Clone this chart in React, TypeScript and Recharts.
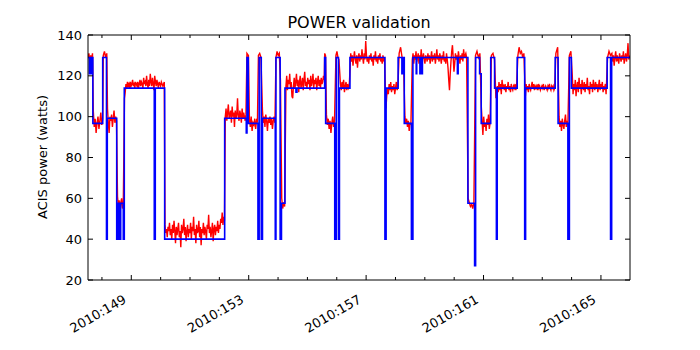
import { LineChart, Line, XAxis, YAxis } from 'recharts';

const xDomain: [number, number] = [147.525, 165.99];
const dayTicks = [148, 149, 150, 151, 152, 153, 154, 155, 156, 157, 158, 159, 160, 161, 162, 163, 164, 165];
const labeledDays = [149, 153, 157, 161, 165];
const wattTicks = [20, 40, 60, 80, 100, 120, 140];

// model power: day a level starts, then that level (drawn as steps)
const modelDays = [
  147.525, 147.569, 147.586, 147.61, 147.627, 147.65, 147.667, 147.69, 148.026, 148.155,
  148.182, 148.503, 148.547, 148.598, 148.639, 148.727, 148.761, 149.783, 149.817, 150.137,
  152.181, 152.917, 152.941, 152.985, 153.315, 153.356, 153.428, 153.469, 153.905, 153.928,
  154.071, 154.116, 154.235, 154.61, 154.644, 155.587, 155.621, 155.931, 155.982, 156.057,
  156.091, 156.449, 157.641, 157.681, 158.09, 158.219, 158.253, 158.3, 158.543, 158.594,
  158.707, 158.724, 158.833, 158.85, 158.901, 158.918, 160.11, 160.135, 160.468, 160.696,
  160.73, 160.866, 160.921, 161.245, 161.377, 161.438, 161.466, 162.147, 162.402, 162.433,
  163.441, 163.54, 163.874, 163.925, 163.993, 165.212, 165.328, 165.365, 165.99,
];
const modelWatts = [
  129, 121, 129, 121, 129, 121, 129, 96.7, 129, 40,
  99.2, 40, 57.6, 40, 57.6, 40, 114, 40, 114, 40,
  99.2, 92, 129, 96.7, 40, 129, 40, 99.2, 40, 129,
  40, 57.6, 114, 112, 114, 129, 96.7, 40, 129, 40,
  114, 129, 40, 114, 129, 121, 129, 96.7, 40, 129,
  121, 129, 121, 129, 121, 129, 121, 129, 57.6, 27,
  129, 121, 96.7, 129, 114, 40, 114, 129, 40, 114,
  129, 96.7, 40, 129, 114, 129, 40, 129, 129,
];

// telemetry, as runs of samples between two days
const telemRuns = [
  { from: 147.525, to: 147.678, watts: [129, 131, 127, 130, 128, 131] },
  { from: 147.705, to: 148.026, watts: [103, 95, 99, 92, 97, 100, 94, 98, 102, 96, 99] },
  { from: 148.046, to: 148.165, watts: [130, 132, 129, 131] },
  { from: 148.189, to: 148.496, watts: [104, 97, 92, 100, 98, 101, 95, 99, 103, 97, 100, 98] },
  { from: 148.53, to: 148.727, watts: [61, 56, 59, 53, 58, 60, 55, 57] },
  {
    from: 148.768, to: 150.124,
    watts: [
      109, 112, 116, 114, 117, 115, 116, 114, 117, 115, 116, 118, 115, 116, 114, 117, 116, 115, 117, 114,
      116, 118, 115, 117, 116, 114, 119, 116, 117, 115, 120, 116, 114, 118, 115, 121, 117, 115, 119, 116,
      113, 120, 117, 115, 118, 116, 114, 117, 116, 115, 117, 116, 115, 116, 117,
    ],
  },
  {
    from: 150.148, to: 152.174,
    watts: [
      47, 43, 45, 41, 46, 44, 48, 42, 45, 40, 47, 43, 49, 44, 38, 46, 42, 45, 48, 41,
      44, 36, 47, 43, 45, 50, 42, 46, 39, 44, 47, 41, 45, 43, 48, 40, 46, 44, 51, 42,
      45, 38, 47, 43, 44, 49, 41, 46, 37, 45, 43, 48, 42, 46, 44, 40, 47, 45, 52, 43,
      46, 41, 44, 48, 39, 45, 47, 42, 46, 44, 49, 43, 47, 45, 50, 48, 53, 47, 51, 49,
    ],
  },
  {
    from: 152.202, to: 152.906,
    watts: [100, 104, 98, 102, 106, 99, 101, 103, 97, 105, 100, 102, 95, 103, 99, 101, 109, 100, 98, 103, 101, 97, 104, 99, 102, 100, 98, 101],
  },
  { from: 152.94, to: 152.99, watts: [131, 130] },
  { from: 153.024, to: 153.297, watts: [99, 95, 100, 93, 97, 96, 99, 94, 98, 97] },
  { from: 153.331, to: 153.417, watts: [130, 131, 129] },
  { from: 153.468, to: 153.894, watts: [103, 97, 100, 95, 101, 98, 93, 99, 97, 100, 96, 99, 94, 98, 100, 97] },
  { from: 153.928, to: 154.081, watts: [129, 132, 130, 131, 118] },
  { from: 154.125, to: 154.224, watts: [60, 55, 58, 56] },
  {
    from: 154.269, to: 155.573,
    watts: [
      115, 120, 113, 118, 116, 121, 114, 117, 110, 109, 115, 119, 114, 117, 121, 115, 118, 112, 117, 120,
      114, 116, 119, 113, 118, 122, 115, 117, 114, 119, 116, 118, 113, 120, 115, 117, 121, 114, 118, 116,
      119, 113, 117, 120, 115, 118, 114, 119, 116, 117, 120, 118,
    ],
  },
  { from: 155.59, to: 155.615, watts: [131, 130] },
  { from: 155.648, to: 155.924, watts: [101, 96, 99, 94, 98, 92, 97, 100, 95, 98] },
  { from: 155.972, to: 156.074, watts: [130, 132, 129, 128] },
  { from: 156.125, to: 156.425, watts: [116, 113, 117, 114, 118, 112, 115, 117, 113, 116, 114, 115] },
  {
    from: 156.476, to: 157.624,
    watts: [
      131, 127, 130, 125, 129, 132, 128, 126, 130, 124, 129, 131, 127, 130, 128, 133, 129, 126, 131, 128,
      137, 130, 127, 129, 126, 130, 128, 131, 127, 129, 125, 130, 128, 132, 127, 129, 126, 130, 128, 131,
      127, 129, 126, 130, 128, 129,
    ],
  },
  { from: 157.675, to: 158.084, watts: [104, 110, 114, 111, 116, 113, 117, 112, 115, 113, 116, 111, 114, 117, 113, 115] },
  { from: 158.125, to: 158.275, watts: [131, 134, 129, 126] },
  { from: 158.322, to: 158.526, watts: [100, 97, 99, 95, 98, 93, 97, 96] },
  {
    from: 158.573, to: 160.423,
    watts: [
      128, 131, 126, 130, 128, 132, 127, 129, 131, 126, 130, 128, 133, 127, 129, 131, 128, 126, 130, 129,
      127, 131, 128, 130, 126, 129, 132, 127, 130, 128, 131, 126, 129, 133, 128, 130, 127, 131, 129, 126,
      130, 128, 132, 127, 129, 126, 131, 128, 124, 118, 113, 121, 127, 132, 135, 129, 122, 126, 131, 128,
      130, 127, 132, 129, 126, 130, 128, 131, 127, 133, 129, 130, 131, 129,
    ],
  },
  { from: 160.475, to: 160.672, watts: [60, 58, 56, 57, 55, 58] },
  { from: 160.727, to: 160.876, watts: [130, 132, 129, 131] },
  { from: 160.924, to: 161.224, watts: [105, 98, 91, 100, 95, 97, 93, 99, 96, 101, 94, 97] },
  { from: 161.268, to: 161.374, watts: [130, 131, 128] },
  {
    from: 161.422, to: 162.127,
    watts: [109, 113, 115, 112, 117, 113, 116, 111, 118, 114, 115, 113, 116, 112, 115, 114, 117, 113, 115, 112, 116, 114, 113, 115, 114, 116, 113, 115],
  },
  { from: 162.171, to: 162.375, watts: [130, 134, 131, 132, 129, 131] },
  {
    from: 162.426, to: 163.424,
    watts: [
      110, 116, 113, 115, 112, 116, 114, 113, 115, 117, 114, 116, 113, 115, 114, 115, 113, 116, 114, 115,
      113, 114, 115, 114, 116, 113, 114, 115, 114, 113, 115, 114, 116, 114, 113, 115, 114, 115, 113, 114,
    ],
  },
  { from: 163.465, to: 163.526, watts: [131, 134] },
  { from: 163.574, to: 163.874, watts: [100, 95, 98, 93, 99, 96, 94, 98, 101, 95, 97, 96] },
  { from: 163.925, to: 163.976, watts: [130, 132] },
  {
    from: 164.024, to: 165.175,
    watts: [
      120, 111, 116, 113, 118, 110, 115, 117, 112, 119, 114, 116, 111, 118, 115, 113, 117, 112, 116, 114,
      119, 113, 115, 111, 117, 114, 116, 112, 118, 115, 113, 117, 114, 116, 112, 115, 118, 113, 116, 114,
      117, 112, 115, 114, 116, 111,
    ],
  },
  { from: 165.226, to: 165.324, watts: [129, 132, 130] },
  {
    from: 165.372, to: 165.975,
    watts: [131, 127, 130, 125, 129, 132, 127, 130, 128, 126, 131, 129, 127, 130, 128, 132, 126, 129, 131, 127, 130, 136, 128, 130],
  },
];

const modelData = modelDays.map((day, i) => ({ day, watts: modelWatts[i] }));
const telemData = telemRuns.flatMap((run) =>
  run.watts.map((watts, k) => ({
    day: run.watts.length > 1 ? run.from + ((run.to - run.from) * k) / (run.watts.length - 1) : run.from,
    watts,
  }))
);

const FONT = 'DejaVu Sans, sans-serif';

const BottomTick = (props: any) => {
  const { x, y, payload } = props;
  const major = labeledDays.includes(payload.value);
  const lx = x - 4;
  const ly = y + 22;
  return (
    <g>
      <line x1={x} x2={x} y1={y} y2={y - (major ? 5 : 3)} stroke="#000" strokeWidth={1} />
      {major && (
        <text x={lx} y={ly} textAnchor="end" fontSize={13} fontFamily={FONT} fill="#000" transform={`rotate(-30 ${lx} ${ly})`}>
          {`2010:${payload.value}`}
        </text>
      )}
    </g>
  );
};

const TopTick = (props: any) => {
  const { x, y, payload } = props;
  const major = labeledDays.includes(payload.value);
  return <line x1={x} x2={x} y1={y} y2={y + (major ? 5 : 3)} stroke="#000" strokeWidth={1} />;
};

const LeftTick = (props: any) => {
  const { x, y, payload } = props;
  return (
    <g>
      <line x1={x} x2={x + 5} y1={y} y2={y} stroke="#000" strokeWidth={1} />
      <text x={x - 6} y={y + 4.5} textAnchor="end" fontSize={13} fontFamily={FONT} fill="#000">
        {payload.value}
      </text>
    </g>
  );
};

const RightTick = (props: any) => {
  const { x, y } = props;
  return <line x1={x} x2={x - 5} y1={y} y2={y} stroke="#000" strokeWidth={1} />;
};

export default function App() {
  return (
    <div style={{ position: 'absolute', left: 0, top: 0, width: 700, height: 350, background: '#fff' }}>
      <LineChart width={700} height={350} margin={{ top: 30, right: 65, bottom: 0, left: 28 }}>
        <XAxis
          dataKey="day"
          type="number"
          domain={xDomain}
          allowDataOverflow
          ticks={dayTicks}
          interval={0}
          tickSize={0}
          tickMargin={0}
          tick={BottomTick}
          height={70}
          axisLine={{ stroke: '#000', strokeWidth: 1 }}
        />
        <XAxis
          xAxisId="top"
          orientation="top"
          dataKey="day"
          type="number"
          domain={xDomain}
          allowDataOverflow
          ticks={dayTicks}
          interval={0}
          tickSize={0}
          tickMargin={0}
          tick={TopTick}
          height={5}
          axisLine={{ stroke: '#000', strokeWidth: 1 }}
        />
        <YAxis
          type="number"
          domain={[20, 140]}
          allowDataOverflow
          ticks={wattTicks}
          interval={0}
          tickSize={0}
          tickMargin={0}
          tick={LeftTick}
          width={60}
          axisLine={{ stroke: '#000', strokeWidth: 1 }}
        />
        <YAxis
          yAxisId="right"
          orientation="right"
          type="number"
          domain={[20, 140]}
          allowDataOverflow
          ticks={wattTicks}
          interval={0}
          tickSize={0}
          tickMargin={0}
          tick={RightTick}
          width={5}
          axisLine={{ stroke: '#000', strokeWidth: 1 }}
        />
        <Line
          data={telemData}
          dataKey="watts"
          type="linear"
          stroke="#ff0000"
          strokeWidth={1.4}
          dot={false}
          activeDot={false}
          isAnimationActive={false}
        />
        <Line
          data={modelData}
          dataKey="watts"
          type="stepAfter"
          stroke="#0000ff"
          strokeWidth={1.6}
          dot={false}
          activeDot={false}
          isAnimationActive={false}
        />
      </LineChart>
      <svg width={700} height={350} style={{ position: 'absolute', left: 0, top: 0, pointerEvents: 'none' }}>
        <text x={359} y={28} textAnchor="middle" fontSize={16} fontFamily={FONT} fill="#000">
          POWER validation
        </text>
        <text x={47} y={157} textAnchor="middle" fontSize={13} fontFamily={FONT} fill="#000" transform="rotate(-90 47 157)">
          ACIS power (watts)
        </text>
      </svg>
    </div>
  );
}
